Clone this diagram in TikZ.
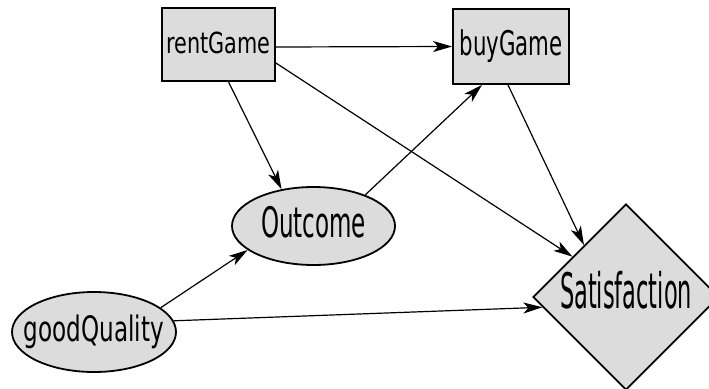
\documentclass[tikz,border=0pt]{standalone}
\usepackage{fontspec}
\setmainfont{DejaVu Sans}
\usetikzlibrary{shapes.geometric,arrows.meta}
\definecolor{nodefill}{RGB}{220,220,220}
\newcommand\fitw[3]{\resizebox{#1}{\height}{\fontsize{#2}{#2}\selectfont #3}}
\tikzset{
  base/.style={draw=black, fill=nodefill, line width=1.8pt, inner sep=0pt},
  boxnode/.style={base, rectangle},
  ellnode/.style={base, ellipse},
  dianode/.style={base, diamond},
  edge/.style={line width=1.2pt, -{Stealth[length=19pt,width=11pt,inset=5pt]}},
}
\begin{document}
\begin{tikzpicture}[x=1pt,y=-1pt]
\useasboundingbox (0,0) rectangle (709,388);
\clip (0,0) rectangle (709,388);
\node[boxnode, minimum width=113pt, minimum height=73pt] (rent) at (218.5,44.5)
  {\raisebox{4pt}{\fitw{104pt}{29pt}{rentGame}}};
\node[boxnode, minimum width=116pt, minimum height=75pt] (buy) at (511,46.5)
  {\fitw{103pt}{34pt}{buyGame}};
\node[ellnode, minimum width=163pt, minimum height=78pt] (out) at (313.5,226)
  {\makebox[0pt]{\raisebox{9pt}{\fitw{105pt}{42pt}{Outcome}}}};
\node[ellnode, minimum width=164pt, minimum height=80pt] (good) at (94,332)
  {\makebox[0pt]{\fitw{140pt}{35pt}{goodQuality}}};
\node[dianode, minimum width=186pt, minimum height=186pt] (sat) at (626,297)
  {\makebox[0pt]{\raisebox{15pt}{\fitw{132pt}{49pt}{Satisfaction}}}};
\draw[edge] ([yshift=-2.5pt]rent.east) -- (buy.west);
\draw[edge] ([xshift=10pt]rent.south) -- (out.131);
\draw[edge] ([yshift=-18.5pt]rent.east) -- (sat.143);
\draw[edge] ([xshift=-3pt]buy.south) -- (sat.129);
\draw[edge] (out.31) -- ([xshift=-29pt]buy.south);
\draw[edge] (good.20) -- (out.200);
\draw[edge] (good.8) -- (sat.187);
\end{tikzpicture}
\end{document}
